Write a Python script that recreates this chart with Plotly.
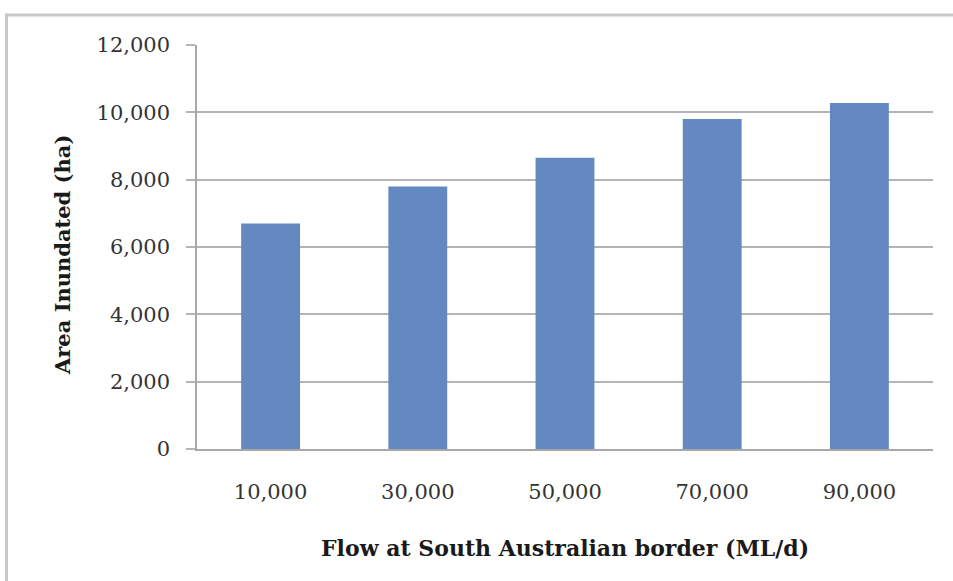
import plotly.graph_objects as go

# Inundated floodplain area for each flow rate at the SA border
flows = ["10,000", "30,000", "50,000", "70,000", "90,000"]
area_ha = [6700, 7800, 8650, 9800, 10280]
y_ticks = [0, 2000, 4000, 6000, 8000, 10000, 12000]
y_tick_text = ["0", "2,000", "4,000", "6,000", "8,000", "10,000", "12,000"]

W, H = 953, 581
L, R, T, B = 197, 20, 45, 132
pw, ph = W - L - R, H - T - B


def px_x(px):
    return (px - L) / pw


def px_y(py):
    return (H - B - py) / ph


fig = go.Figure(
    go.Bar(
        x=flows,
        y=area_ha,
        marker=dict(color="#6489c0", line=dict(width=0)),
    )
)

tick_font = dict(family="DejaVu Serif", size=21, color="#333333")
x_title_font = dict(family="DejaVu Serif", size=22, color="#1a1a1a")
y_title_font = dict(family="DejaVu Serif", size=21, color="#1a1a1a")

frame_line = dict(color="#c8c8c8", width=3)

fig.update_layout(
    width=W,
    height=H,
    margin=dict(l=L, r=R, t=T, b=B),
    paper_bgcolor="white",
    plot_bgcolor="white",
    showlegend=False,
    bargap=0.6,
    xaxis=dict(
        type="category",
        showgrid=False,
        showline=True,
        linecolor="#a8a8a8",
        linewidth=1.5,
        ticks="",
        tickfont=tick_font,
        ticklabelstandoff=23,
    ),
    yaxis=dict(
        range=[0, 12000],
        tickvals=y_ticks,
        ticktext=y_tick_text,
        showgrid=True,
        gridcolor="#b4b4b4",
        gridwidth=1.5,
        zeroline=False,
        showline=True,
        linecolor="#a8a8a8",
        linewidth=1.5,
        ticks="outside",
        ticklen=9,
        tickcolor="#b4b4b4",
        tickwidth=1.5,
        tickfont=tick_font,
        ticklabelstandoff=12,
    ),
    annotations=[
        dict(
            text="<b>Flow at South Australian border (ML/d)</b>",
            xref="paper", yref="paper",
            x=px_x(565), y=px_y(548),
            xanchor="center", yanchor="middle",
            showarrow=False, font=x_title_font,
        ),
        dict(
            text="<b>Area Inundated (ha)</b>",
            xref="paper", yref="paper",
            x=px_x(62), y=px_y(255),
            xanchor="center", yanchor="middle",
            textangle=-90,
            showarrow=False, font=y_title_font,
        ),
    ],
    shapes=[
        # light frame: top and left edges of the chart box
        dict(
            type="line", xref="paper", yref="paper",
            x0=px_x(5), x1=px_x(W),
            y0=px_y(15), y1=px_y(15),
            line=frame_line, layer="below",
        ),
        dict(
            type="line", xref="paper", yref="paper",
            x0=px_x(6.5), x1=px_x(6.5),
            y0=px_y(13.5), y1=px_y(H),
            line=frame_line, layer="below",
        ),
    ],
)

fig.write_html("out.html")
